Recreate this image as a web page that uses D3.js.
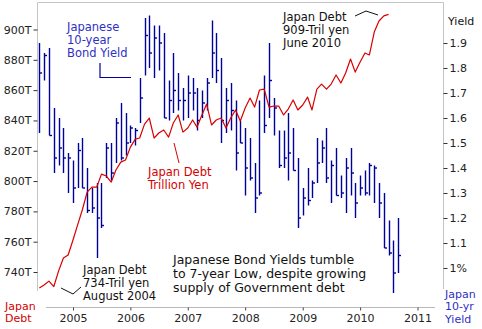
<!DOCTYPE html>
<html>
<head>
<meta charset="utf-8">
<script src="https://cdn.jsdelivr.net/npm/d3@7"></script>
<style>
  html, body { margin: 0; padding: 0; background: #fff; }
  svg { display: block; }
  text { font-family: "DejaVu Sans", Verdana, sans-serif; }
</style>
</head>
<body>
<svg id="chart" width="482" height="329"></svg>
<script>
// Monthly 10-year JGB yield bars (high / low / close), June 2004 onward
const yieldStart = "2004-06";
const yieldHigh = [1.90,1.86,1.88,1.64,1.60,1.56,1.46,1.43,1.50,1.52,1.40,1.32,1.34,1.34,1.50,1.50,1.60,1.66,1.62,1.57,
  1.56,1.76,2.00,2.01,1.97,1.97,1.94,1.75,1.86,1.78,1.72,1.77,1.76,1.72,1.71,1.76,1.99,1.94,1.84,1.72,
  1.74,1.67,1.59,1.56,1.52,1.42,1.67,1.77,1.90,1.68,1.55,1.55,1.62,1.56,1.44,1.32,1.40,1.35,1.52,1.51,
  1.56,1.43,1.48,1.37,1.44,1.48,1.34,1.37,1.39,1.42,1.41,1.34,1.30,1.19,1.11,1.20];
const yieldLow = [1.54,1.75,1.53,1.38,1.41,1.38,1.30,1.26,1.32,1.32,1.22,1.22,1.04,1.16,1.36,1.35,1.42,1.43,1.45,1.50,
  1.49,1.58,1.77,1.80,1.76,1.79,1.60,1.59,1.62,1.63,1.59,1.60,1.63,1.55,1.60,1.63,1.76,1.74,1.50,1.54,
  1.55,1.39,1.50,1.29,1.35,1.22,1.29,1.54,1.60,1.53,1.40,1.40,1.35,1.39,1.16,1.21,1.25,1.28,1.34,1.42,
  1.34,1.26,1.29,1.28,1.22,1.29,1.20,1.29,1.29,1.29,1.26,1.20,1.08,1.05,0.90,0.98];
const yieldClose = [1.78,1.85,1.53,1.44,1.48,1.44,1.44,1.32,1.47,1.32,1.23,1.24,1.20,1.17,1.48,1.38,1.58,1.44,1.50,1.56,
  1.55,1.68,1.93,1.86,1.92,1.90,1.60,1.67,1.71,1.67,1.67,1.70,1.70,1.59,1.66,1.74,1.86,1.79,1.59,1.67,
  1.63,1.46,1.50,1.40,1.36,1.28,1.30,1.57,1.75,1.64,1.41,1.44,1.46,1.39,1.20,1.28,1.27,1.34,1.42,1.48,
  1.36,1.41,1.29,1.30,1.40,1.38,1.26,1.32,1.30,1.41,1.40,1.26,1.08,1.06,0.98,1.05];

// Japanese government debt, trillion yen, monthly from June 2004
const debtStart = "2004-06";
const debtValues = [729.4,731.4,734,730.4,740.6,749.2,751.2,761.1,771.6,780.9,
  792.7,796.0,796.0,804.6,803.3,799.3,807.3,812.5,813.9,822.4,
  827.7,828.4,837.6,841.6,828.4,831.7,833.7,829.0,838.3,843.6,
  832.3,835.0,840.3,835.6,843.6,850.8,837.0,840.3,841.6,835.0,
  841.6,846.9,839.6,848.2,854.8,848.8,860.1,860.7,848.8,849.5,
  849.5,843.6,847.5,853.5,846.9,850.2,855.4,846.9,860.7,864.0,
  860.7,864.0,870.0,864.7,871.3,880.5,871.9,878.5,884.5,883.2,
  898.3,905.6,909,910];

// Axis ticks
const debtTicks = [740,760,780,800,820,840,860,880,900];
const yieldTicks = [1.0,1.1,1.2,1.3,1.4,1.5,1.6,1.7,1.8,1.9];
const yearTicks = [2005,2006,2007,2008,2009,2010,2011];

const parseMonth = d3.timeParse("%Y-%m");
const monthSeq = (start, n) => d3.range(n).map(i => d3.timeMonth.offset(parseMonth(start), i));

const yieldDates = monthSeq(yieldStart, yieldHigh.length);
const debtDates = monthSeq(debtStart, debtValues.length);

const svg = d3.select("#chart");
svg.append("rect").attr("width", 482).attr("height", 329).attr("fill", "#fff");

const frame = { left: 37.5, right: 443.5, top: 2.5 };

const x = d3.scaleTime()
  .domain([new Date(2005, 0, 1), new Date(2011, 0, 1)])
  .range([73, 417.5]);
const yDebt = d3.scaleLinear().domain([740, 900]).range([272, 29.5]);
const yYield = d3.scaleLinear().domain([1.0, 1.9]).range([268, 43]);

// Frame (top and sides) and baseline
const gridColor = "#c4c4c4";
svg.append("path")
  .attr("d", `M${frame.left},291V${frame.top}H${frame.right}V289`)
  .attr("fill", "none").attr("stroke", gridColor).attr("stroke-width", 1);
svg.append("line")
  .attr("x1", 46).attr("x2", 435).attr("y1", 307.5).attr("y2", 307.5)
  .attr("stroke", "#b8b8b8").attr("stroke-width", 1);

// Left axis: debt
const leftAxis = svg.append("g")
  .attr("transform", `translate(${frame.left},0)`)
  .call(d3.axisLeft(yDebt).tickValues(debtTicks).tickSize(4).tickPadding(2)
    .tickFormat(d => d + "T"));
leftAxis.select(".domain").remove();
leftAxis.selectAll(".tick line").attr("stroke", "#333");
leftAxis.selectAll(".tick text").attr("fill", "#222").style("font-size", "11px")
  .style("font-family", '"DejaVu Sans", Verdana, sans-serif');

// Right axis: yield
const rightAxis = svg.append("g")
  .attr("transform", `translate(${frame.right},0)`)
  .call(d3.axisRight(yYield).tickValues(yieldTicks).tickSize(4).tickPadding(2)
    .tickFormat(d => d === 1 ? "1%" : d3.format(".1f")(d)));
rightAxis.select(".domain").remove();
rightAxis.selectAll(".tick line").attr("stroke", "#333");
rightAxis.selectAll(".tick text").attr("fill", "#222").style("font-size", "11px")
  .style("font-family", '"DejaVu Sans", Verdana, sans-serif');

// Bottom axis: years
const bottomAxis = svg.append("g")
  .attr("transform", "translate(0,307.5)")
  .call(d3.axisBottom(x).tickValues(yearTicks.map(y => new Date(y, 0, 1))).tickSize(3).tickPadding(4)
    .tickFormat(d3.timeFormat("%Y")));
bottomAxis.select(".domain").remove();
bottomAxis.selectAll(".tick line").attr("stroke", "#444");
bottomAxis.selectAll(".tick text").attr("fill", "#222").style("font-size", "11px")
  .style("font-family", '"DejaVu Sans", Verdana, sans-serif');

// Yield bars
const barColor = "#00009c";
const bars = svg.append("g").attr("stroke", barColor).attr("stroke-width", 1.4);
yieldDates.forEach((d, i) => {
  const bx = Math.round(x(d)) + 0.5;
  bars.append("line").attr("x1", bx).attr("x2", bx)
    .attr("y1", yYield(yieldHigh[i])).attr("y2", yYield(yieldLow[i]));
  bars.append("line").attr("x1", bx).attr("x2", bx + 2.5)
    .attr("y1", yYield(yieldClose[i])).attr("y2", yYield(yieldClose[i]));
});

// Debt line
const debtLine = d3.line().x((d, i) => x(debtDates[i])).y(d => yDebt(d));
svg.append("path").datum(debtValues)
  .attr("d", debtLine)
  .attr("fill", "none").attr("stroke", "#d80000").attr("stroke-width", 1.2)
  .attr("stroke-linejoin", "round");

// Text helper
function textBlock(lines, px, baseline, step, color, size) {
  const t = svg.append("text").attr("fill", color).style("font-size", size + "px");
  lines.forEach((s, i) => t.append("tspan").attr("x", px).attr("y", baseline + i * step).text(s));
}

const blue = "#2f2fc4";
const red = "#d40000";
const ink = "#111";

// Series labels
textBlock(["Japanese", "10-year", "Bond Yield"], 67, 31, 13, blue, 11.5);
svg.append("path").attr("d", "M100,63V77.5H131").attr("fill", "none")
  .attr("stroke", barColor).attr("stroke-width", 1.2);

textBlock(["Japan Debt", "Trillion Yen"], 148, 176, 13, red, 11.5);
svg.append("path").attr("d", "M174,143L179,163").attr("fill", "none")
  .attr("stroke", red).attr("stroke-width", 1);

// Debt annotations
textBlock(["Japan Debt", "909-Tril yen", "June 2010"], 283, 21, 13, ink, 11.5);
svg.append("path").attr("d", "M355,16L366,11L378,15").attr("fill", "none")
  .attr("stroke", ink).attr("stroke-width", 1);

textBlock(["Japan Debt", "734-Tril yen", "August 2004"], 83, 273.5, 13, ink, 11.5);
svg.append("path").attr("d", "M61,288L73,294L81,287").attr("fill", "none")
  .attr("stroke", ink).attr("stroke-width", 1);

// Caption
textBlock(["Japanese Bond Yields tumble", "to 7-year Low, despite growing", "supply of Government debt"],
  173, 264, 14, ink, 12.5);

// Axis titles
textBlock(["Japan", "Debt"], 5, 309.5, 12.5, red, 11);
textBlock(["Japan", "10-yr", "Yield"], 445, 297.5, 12.5, blue, 11);
textBlock(["Yield"], 448, 25, 13, ink, 11);
</script>
</body>
</html>
